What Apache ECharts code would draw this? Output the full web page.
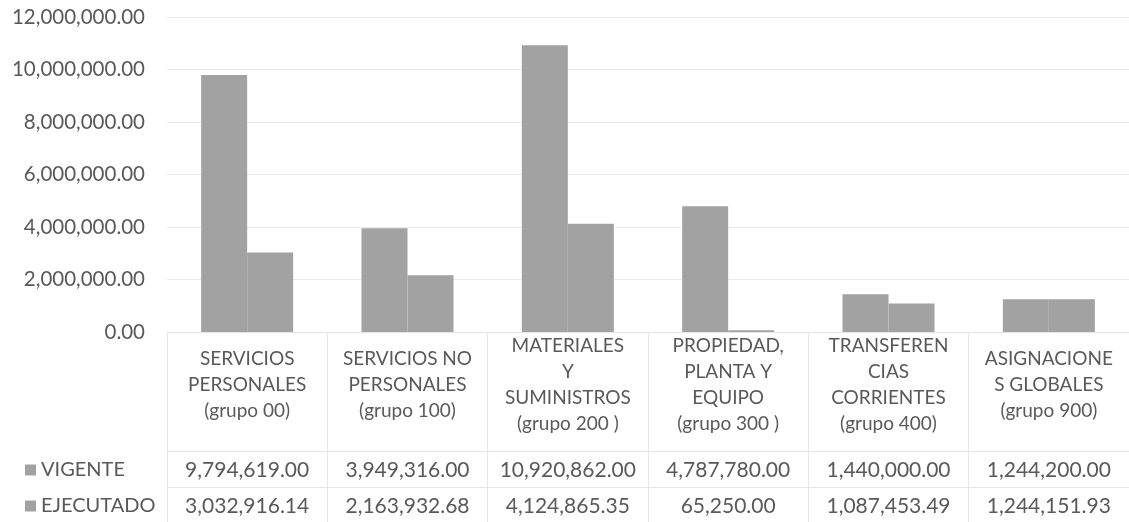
<!DOCTYPE html>
<html>
<head>
<meta charset="utf-8">
<script src="https://cdn.jsdelivr.net/npm/echarts@6/dist/echarts.min.js"></script>
<style>
  html, body { margin: 0; padding: 0; background: #fff; }
  #chart { width: 1129px; height: 522px; }
</style>
</head>
<body>
<div id="chart"></div>
<script>
const categories = [
  "SERVICIOS\nPERSONALES\n(grupo 00)",
  "SERVICIOS NO\nPERSONALES\n(grupo 100)",
  "MATERIALES\nY\nSUMINISTROS\n(grupo 200 )",
  "PROPIEDAD,\nPLANTA Y\nEQUIPO\n(grupo 300 )",
  "TRANSFEREN\nCIAS\nCORRIENTES\n(grupo 400)",
  "ASIGNACIONE\nS GLOBALES\n(grupo 900)"
];
const vigente = [9794619.00, 3949316.00, 10920862.00, 4787780.00, 1440000.00, 1244200.00];
const ejecutado = [3032916.14, 2163932.68, 4124865.35, 65250.00, 1087453.49, 1244151.93];
const seriesNames = ["VIGENTE", "EJECUTADO"];

const textColor = "#595959";
const barColor = "#a2a2a2";
const lineColor = "#e6e6e6";
const font = "Lato, 'Open Sans', sans-serif";

function fmt(n) {
  const parts = n.toFixed(2).split(".");
  parts[0] = parts[0].replace(/\B(?=(\d{3})+(?!\d))/g, ",");
  return parts.join(".");
}

const chart = echarts.init(document.getElementById("chart"));

// data table rows under the chart, one extra category axis per series
function valueAxis(values, offset) {
  return {
    type: "category",
    gridIndex: 0,
    position: "bottom",
    offset: offset,
    data: categories,
    axisLine: { show: true, lineStyle: { color: lineColor } },
    axisTick: { show: false },
    axisLabel: {
      interval: 0,
      margin: 19,
      verticalAlign: "middle",
      color: textColor,
      fontFamily: font,
      fontSize: 21,
      formatter: (v, i) => fmt(values[i])
    }
  };
}

function legendRow(name, top) {
  return {
    data: [name], orient: "vertical", left: 20, top: top,
    icon: "rect", itemWidth: 11, itemHeight: 11, itemGap: 6,
    textStyle: { color: textColor, fontFamily: font, fontSize: 20 }
  };
}

chart.setOption({
  animation: false,
  backgroundColor: "#fff",
  grid: { left: 167, top: 17, width: 975, height: 315 },
  legend: [legendRow(seriesNames[0], 455), legendRow(seriesNames[1], 491)],
  xAxis: [
    {
      type: "category",
      data: categories,
      axisLine: { show: true, lineStyle: { color: lineColor } },
      axisTick: { show: true, length: 190, lineStyle: { color: lineColor } },
      axisLabel: {
        interval: 0,
        margin: 53,
        verticalAlign: "middle",
        lineHeight: 26,
        color: textColor,
        fontFamily: font,
        fontSize: 19
      }
    },
    valueAxis(vigente, 119),
    valueAxis(ejecutado, 155)
  ],
  yAxis: {
    type: "value",
    min: 0,
    max: 12000000,
    interval: 2000000,
    axisLine: { show: false },
    axisTick: { show: false },
    splitLine: { lineStyle: { color: "#ebebeb" } },
    axisLabel: {
      margin: 22,
      color: textColor,
      fontFamily: font,
      fontSize: 20.5,
      formatter: v => fmt(v)
    }
  },
  series: [
    {
      name: seriesNames[0], type: "bar", data: vigente,
      barWidth: 46, barGap: "0%",
      itemStyle: { color: barColor }
    },
    {
      name: seriesNames[1], type: "bar", data: ejecutado,
      barWidth: 46, barGap: "0%",
      itemStyle: { color: barColor }
    }
  ]
});
</script>
</body>
</html>
